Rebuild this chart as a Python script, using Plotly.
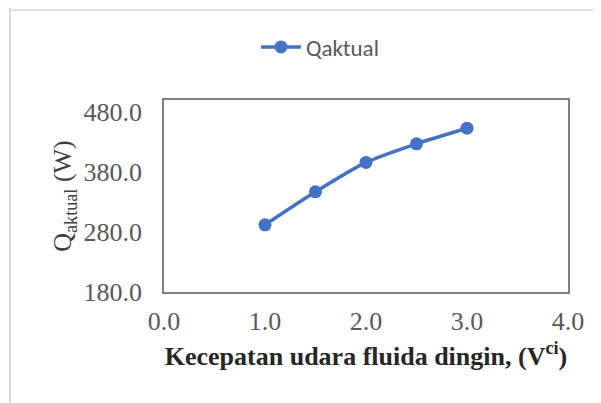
import plotly.graph_objects as go

x_vals = [1.0, 1.5, 2.0, 2.5, 3.0]
q_aktual = [292, 347, 396, 427, 453]
series_name = "Qaktual"
x_ticks = [0, 1, 2, 3, 4]
x_tick_labels = ["0.0", "1.0", "2.0", "3.0", "4.0"]
y_ticks = [180, 280, 380, 480]
y_tick_labels = ["180.0", "280.0", "380.0", "480.0"]
y_min, y_max = 180, 500

OFF = 8  # page body margin
W, H = 601, 403
# target plot box in screenshot pixels
PX0, PX1, PY0, PY1 = 164, 568, 100, 292
L = PX0 - OFF
T = PY0 - OFF
R = W + OFF - PX1
B = H + OFF - PY1
pw = PX1 - PX0
ph = PY1 - PY0

fig = go.Figure()
fig.add_trace(go.Scatter(
    x=x_vals, y=q_aktual, name=series_name, mode="lines+markers",
    line=dict(color="#4472C4", width=3.5, shape="spline", smoothing=0.6),
    marker=dict(color="#4472C4", size=13),
))

serif = "Liberation Serif, Times New Roman, serif"
fig.update_layout(
    width=W, height=H,
    margin=dict(l=L, r=R, t=T, b=B),
    paper_bgcolor="white", plot_bgcolor="white",
    showlegend=True,
    legend=dict(orientation="h", x=(256 - PX0) / pw, xanchor="left",
                y=1 + (PY0 - 47) / ph, yanchor="middle",
                font=dict(family="Carlito, Liberation Sans, Open Sans, sans-serif", size=23, color="#595959"),
                itemwidth=40),
    xaxis=dict(range=[0, 4], tickvals=x_ticks, ticktext=x_tick_labels,
               showgrid=False, zeroline=False, showline=True, mirror=True,
               linecolor="#7f7f7f", linewidth=1.5, ticks="",
               ticklabelstandoff=5,
               tickfont=dict(family=serif, size=26, color="#595959"),
               title=dict(text="<b>Kecepatan udara fluida dingin, (V<sup>ci</sup>)</b>",
                          font=dict(family=serif, size=26, color="#262626"), standoff=12)),
    yaxis=dict(range=[y_min, y_max], tickvals=y_ticks, ticktext=y_tick_labels,
               showgrid=False, zeroline=False, showline=True, mirror=True,
               linecolor="#7f7f7f", linewidth=1.5, ticks="",
               ticklabelstandoff=15,
               tickfont=dict(family=serif, size=26, color="#595959"),
               title=dict(text="Q<sub>aktual</sub> (W)",
                          font=dict(family=serif, size=26, color="#404040"), standoff=4)),
    shapes=[
        dict(type="line", xref="paper", yref="paper",
             x0=(10 - PX0) / pw, x1=(10 - PX0) / pw, y0=1 + (PY0 + 5) / ph, y1=-(H + 5 - PY1) / ph,
             line=dict(color="#d9d9d9", width=2)),
        dict(type="line", xref="paper", yref="paper",
             x0=(10 - PX0) / pw, x1=1 + (W + 5 - PX1) / pw, y0=(PY1 - 10) / ph, y1=(PY1 - 10) / ph,
             line=dict(color="#d9d9d9", width=1.5)),
    ],
)
fig.write_html("out.html")
